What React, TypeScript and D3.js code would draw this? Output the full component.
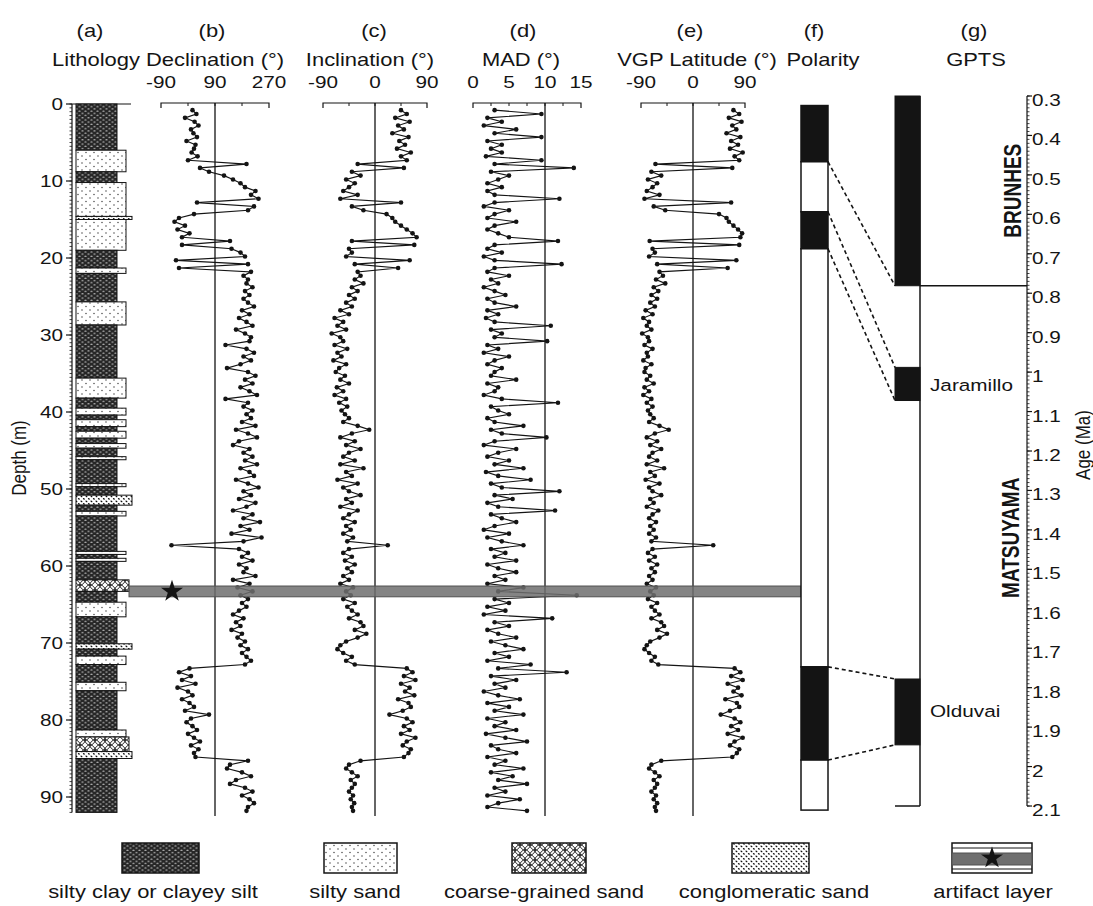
import React from "react";
import * as d3 from "d3";

// sample depths (m) shared by the four palaeomagnetic series
const depthM = [
  0.8, 1.3, 1.8, 2.3, 2.8, 3.3, 3.8, 4.3, 4.8, 5.3,
  5.8, 6.3, 6.8, 7.3, 7.8, 8.3, 8.8, 9.3, 9.8, 10.3,
  10.8, 11.3, 11.8, 12.3, 12.8, 13.3, 13.8, 14.3, 14.8, 15.3,
  15.8, 16.3, 16.8, 17.3, 17.8, 18.3, 18.8, 19.3, 19.8, 20.3,
  20.8, 21.3, 21.8, 22.3, 22.8, 23.3, 23.8, 24.3, 24.8, 25.3,
  25.8, 26.3, 26.8, 27.3, 27.8, 28.3, 28.8, 29.3, 29.8, 30.3,
  30.8, 31.3, 31.8, 32.3, 32.8, 33.3, 33.8, 34.3, 34.8, 35.3,
  35.8, 36.3, 36.8, 37.3, 37.8, 38.3, 38.8, 39.3, 39.8, 40.3,
  40.8, 41.3, 41.8, 42.3, 42.8, 43.3, 43.8, 44.3, 44.8, 45.3,
  45.8, 46.3, 46.8, 47.3, 47.8, 48.3, 48.8, 49.3, 49.8, 50.3,
  50.8, 51.3, 51.8, 52.3, 52.8, 53.3, 53.8, 54.3, 54.8, 55.3,
  55.8, 56.3, 56.8, 57.3, 57.8, 58.3, 58.8, 59.3, 59.8, 60.3,
  60.8, 61.3, 61.8, 62.3, 62.8, 63.3, 63.8, 64.3, 64.8, 65.3,
  65.8, 66.3, 66.8, 67.3, 67.8, 68.3, 68.8, 69.3, 69.8, 70.3,
  70.8, 71.3, 71.8, 72.3, 72.8, 73.3, 73.8, 74.3, 74.8, 75.3,
  75.8, 76.3, 76.8, 77.3, 77.8, 78.3, 78.8, 79.3, 79.8, 80.3,
  80.8, 81.3, 81.8, 82.3, 82.8, 83.3, 83.8, 84.3, 84.8, 85.3,
  85.8, 86.3, 86.8, 87.3, 87.8, 88.3, 88.8, 89.3, 89.8, 90.3,
  90.8, 91.3, 91.8,
];

const declination = [
  15, 28, -10, 22, 35, 10, 18, 30, -5, 25,
  20, 12, 32, 0, 195, 40, 70, 120, 150, 175,
  190, 225, 210, 235, 30, 220, 200, 20, -30, -45,
  -10, -35, 5, -20, 140, -20, 145, 175, 190, -40,
  200, -30, 210, 185, 200, 195, 215, 190, 205, 185,
  200, 220, 180, 205, 170, 195, 215, 160, 190, 210,
  205, 125, 195, 220, 185, 210, 175, 130, 200, 225,
  190, 215, 175, 205, 230, 125, 200, 185, 215, 195,
  210, 180, 225, 160, 200, 230, 170, 150, 205, 185,
  215, 190, 230, 175, 205, 220, 160, 200, 235, 185,
  210, 170, 225, 195, 150, 215, 185, 240, 175, 205,
  145, 245, 185, -55, 170, 200, 180, 215, 170, 195,
  185, 225, 150, 205, 165, 215, 175, 200, 180, 195,
  170, 150, 185, 160, 175, 145, 180, 165, 190, 175,
  200, 180, 195, 210, 190, 5, -30, 10, -20, 25,
  -35, 0, 15, -20, 5, 20, -10, 70, 10, -5,
  15, 30, 0, 20, 40, 10, 35, 20, 25, 200,
  140, 130, 180, 210, 160, 140, 190, 215, 180, 205,
  220, 200, 195,
];

const inclination = [
  45, 55, 35, 60, 40, 50, 30, 58, 42, 52,
  38, 62, 45, 55, -30, 50, -40, -25, -50, -35,
  -45, -55, -30, -60, 45, -40, -20, 20, 30, 35,
  45, 55, 65, 72, -40, 68, -45, -40, -50, 60,
  -35, 40, -30, -25, -35, -20, -40, -30, -45, -35,
  -50, -40, -60, -45, -70, -55, -65, -50, -75, -60,
  -55, -70, -48, -65, -58, -72, -50, -62, -68, -52,
  -60, -45, -66, -55, -70, -50, -62, -48, -58, -52,
  -45, -55, -30, -10, -40, -60, -35, -50, -25, -45,
  -55, -35, -60, -20, -50, -40, -65, -30, -55, -45,
  -25, -50, -40, -60, -30, -45, -55, -35, -50, -42,
  -55, -38, -48, 22, -45, -55, -40, -52, -35, -48,
  -40, -55, -45, -60, -38, -50, -42, -55, -35, -48,
  -40, -30, -45, -25, -20, -35, -15, -30, -50, -60,
  -65, -55, -40, -50, -35, 55, 65, 50, 70, 45,
  60, 52, 68, 40, 58, 62, 48, 25, 55, 65,
  50, 60, 45, 70, 55, 48, 62, 58, 50, -25,
  -45, -50, -40, -30, -42, -35, -40, -45, -38, -42,
  -36, -40, -38,
];

const madDeg = [
  3, 9.5, 2, 4, 1.5, 6, 3, 9.5, 2, 4,
  2.5, 4, 1.8, 9.5, 3, 14, 2.5, 5, 3.5, 2,
  4, 2, 3, 12, 3, 1.5, 5, 3, 2, 6,
  3, 2, 3.5, 5, 11.8, 3, 2, 4, 1.5, 3,
  12.3, 3, 2, 5, 2.5, 3.5, 1.5, 3, 4.5, 2,
  3, 6, 2, 3.5, 1.8, 3, 10.8, 2.5, 4, 3,
  10.3, 2, 3.5, 1.5, 5, 3, 2, 4, 3, 2.5,
  6, 2, 3.5, 3, 1.5, 4, 11.8, 2.5, 3.5, 5,
  2, 3, 7, 2.5, 4, 10.2, 3, 1.5, 6, 3.5,
  2, 5, 3, 7, 1.8, 3.5, 8, 2.5, 4, 12,
  3, 5.5, 2, 3.5, 11.4, 2.5, 4, 6, 3, 1.5,
  5, 2, 4, 7, 2.5, 4.5, 3, 6, 2, 3.5,
  6, 3, 4.5, 2, 7, 3.5, 14.4, 3, 5, 2,
  4.5, 1.5, 11, 3, 5, 2, 3.5, 6, 2.5, 4.5,
  7, 3, 5, 2, 8, 3.5, 13, 2.5, 6, 3,
  4.5, 1.5, 3.5, 6.5, 2, 5, 3, 7, 2, 4.5,
  3, 6, 1.8, 4.5, 7.5, 2.5, 3.5, 6, 2, 4.5,
  3, 7, 2.5, 5.5, 3.5, 7.5, 3, 4.5, 2, 6.5,
  3.5, 2, 7.5,
];

const vgpLat = [
  70, 80, 62, 84, 68, 75, 58, 82, 66, 78,
  64, 86, 72, 80, -65, 68, -72, -55, -78, -62,
  -70, -80, -58, -84, 66, -68, -48, 45, 58, 62,
  70, 78, 85, 82, -75, 80, -70, -66, -76, 75,
  -62, 60, -58, -52, -64, -48, -68, -60, -72, -62,
  -74, -66, -82, -70, -86, -76, -80, -72, -88, -78,
  -76, -84, -70, -80, -78, -86, -72, -82, -84, -74,
  -80, -68, -84, -76, -86, -72, -80, -70, -78, -74,
  -68, -76, -58, -42, -66, -80, -62, -74, -55, -70,
  -76, -62, -80, -50, -74, -66, -82, -58, -76, -70,
  -55, -74, -68, -80, -60, -70, -76, -64, -74, -68,
  -76, -64, -72, 35, -70, -78, -66, -76, -62, -72,
  -66, -76, -70, -80, -64, -74, -68, -78, -62, -72,
  -66, -58, -72, -55, -50, -62, -45, -58, -74, -80,
  -84, -76, -66, -72, -60, 72, 82, 66, 86, 60,
  78, 70, 84, 56, 76, 80, 64, 48, 72, 82,
  66, 78, 60, 86, 72, 64, 80, 76, 68, -55,
  -72, -76, -66, -58, -68, -62, -66, -72, -64, -68,
  -62, -66, -64,
];

// lithology: [top (m), base (m), kind]
const lithology: [number, number, string][] = [
  [0, 6, "clay"], [6, 8.8, "silt"], [8.8, 10.2, "clay"], [10.2, 14.6, "silt"],
  [14.6, 15.0, "cong"], [15.0, 19.0, "silt"], [19.0, 21.3, "clay"], [21.3, 22.0, "silt"],
  [22.0, 25.7, "clay"], [25.7, 28.7, "silt"], [28.7, 35.6, "clay"], [35.6, 38.2, "silt"],
  [38.2, 39.5, "clay"], [39.5, 40.4, "silt"], [40.4, 41.0, "clay"], [41.0, 41.9, "silt"],
  [41.9, 42.5, "clay"], [42.5, 43.4, "silt"], [43.4, 44.1, "clay"], [44.1, 44.7, "silt"],
  [44.7, 45.8, "clay"], [45.8, 46.2, "silt"], [46.2, 49.3, "clay"], [49.3, 49.7, "silt"],
  [49.7, 50.8, "clay"], [50.8, 52.1, "cong"], [52.1, 52.9, "clay"], [52.9, 53.5, "silt"],
  [53.5, 58.1, "clay"], [58.1, 58.5, "silt"], [58.5, 59.0, "clay"], [59.0, 59.4, "silt"],
  [59.4, 61.8, "clay"], [61.8, 63.3, "coarse"], [63.3, 64.7, "clay"], [64.7, 66.6, "silt"],
  [66.6, 70.1, "clay"], [70.1, 70.8, "cong"], [70.8, 71.7, "clay"], [71.7, 72.8, "silt"],
  [72.8, 75.1, "clay"], [75.1, 76.2, "silt"], [76.2, 81.3, "clay"], [81.3, 82.2, "silt"],
  [82.2, 84.1, "coarse"], [84.1, 85.0, "cong"], [85.0, 92.0, "clay"],
];

// polarity zones in depth, and GPTS normal chrons in Ma
const polarityBounds = [0.2, 7.5, 14.0, 18.8, 73.1, 85.2, 91.7];
const polarityNormal = [true, false, true, false, true, false];
const gptsNormal = [[0.3, 0.781], [0.988, 1.072], [1.778, 1.945]];
const gptsBase = 2.1;
const tieDepths = [7.5, 14.0, 18.8, 73.1, 85.2];
const tieAges = [0.781, 0.988, 1.072, 1.778, 1.945];
const artifactLayer = [62.6, 64.0];

const depthTicks = [0, 10, 20, 30, 40, 50, 60, 70, 80, 90];
const ageTicks = [0.3, 0.4, 0.5, 0.6, 0.7, 0.8, 0.9, 1, 1.1, 1.2, 1.3, 1.4, 1.5, 1.6, 1.7, 1.8, 1.9, 2, 2.1];

const legendKinds = ["clay", "silt", "coarse", "cong", "artifact"];
const legendNames = ["silty clay or clayey silt", "silty sand", "coarse-grained sand", "conglomeratic sand", "artifact layer"];

const SX = 1.22; // the original figure is stretched horizontally
const FONT = "'Liberation Sans', Arial, Helvetica, sans-serif";
const INK = "#141414";

function Label({ x, y, text, size = 17, anchor = "middle", bold = false, rotate = false }: any) {
  const t = `translate(${x},${y}) scale(${SX},1)` + (rotate ? " rotate(-90)" : "");
  return (
    <text transform={t} textAnchor={anchor} fontSize={size} fontWeight={bold ? "bold" : "normal"} fontFamily={FONT} fill={INK}>
      {text}
    </text>
  );
}

const panels = [
  { id: "dec", values: declination, domain: [-90, 270], range: [161, 269], ref: 90, ticks: [-90, 0, 90, 180, 270], labels: [-90, 90, 270], tag: "(b)", title: "Declination (°)", tagX: 212, titleX: 215 },
  { id: "inc", values: inclination, domain: [-90, 90], range: [323, 427], ref: 0, ticks: [-90, -45, 0, 45, 90], labels: [-90, 0, 90], tag: "(c)", title: "Inclination (°)", tagX: 374, titleX: 370 },
  { id: "mad", values: madDeg, domain: [0, 15], range: [473, 581], ref: 10, ticks: [0, 2.5, 5, 7.5, 10, 12.5, 15], labels: [0, 5, 10, 15], tag: "(d)", title: "MAD (°)", tagX: 523, titleX: 521 },
  { id: "vgp", values: vgpLat, domain: [-90, 90], range: [641, 745], ref: 0, ticks: [-90, -45, 0, 45, 90], labels: [-90, 0, 90], tag: "(e)", title: "VGP Latitude (°)", tagX: 690, titleX: 697 },
];

const lithRight: Record<string, number> = { clay: 117, silt: 126, coarse: 129, cong: 132 };

function Patterns() {
  return (
    <defs>
      <pattern id="p-clay" width="6" height="4.4" patternUnits="userSpaceOnUse">
        <rect width="6" height="4.4" fill="#262626" />
        <ellipse cx="1.5" cy="1.1" rx="1.2" ry="0.75" fill="#a8a8a8" />
        <ellipse cx="4.5" cy="3.3" rx="1.2" ry="0.75" fill="#a8a8a8" />
      </pattern>
      <pattern id="p-silt" width="8" height="7" patternUnits="userSpaceOnUse">
        <rect width="8" height="7" fill="#fff" />
        <circle cx="2" cy="2" r="0.7" fill="#333" />
        <circle cx="6" cy="5.5" r="0.7" fill="#333" />
      </pattern>
      <pattern id="p-coarse" width="10" height="10" patternUnits="userSpaceOnUse">
        <rect width="10" height="10" fill="#fff" />
        <circle cx="5" cy="5" r="5" fill="none" stroke="#111" strokeWidth="0.9" />
        <circle cx="0" cy="0" r="5" fill="none" stroke="#111" strokeWidth="0.9" />
        <circle cx="10" cy="0" r="5" fill="none" stroke="#111" strokeWidth="0.9" />
        <circle cx="0" cy="10" r="5" fill="none" stroke="#111" strokeWidth="0.9" />
        <circle cx="10" cy="10" r="5" fill="none" stroke="#111" strokeWidth="0.9" />
      </pattern>
      <pattern id="p-cong" width="5" height="5" patternUnits="userSpaceOnUse">
        <rect width="5" height="5" fill="#fff" />
        <ellipse cx="1.4" cy="1.4" rx="1.1" ry="0.7" transform="rotate(30 1.4 1.4)" fill="#111" />
        <ellipse cx="3.9" cy="3.8" rx="1.1" ry="0.7" transform="rotate(30 3.9 3.8)" fill="#111" />
      </pattern>
    </defs>
  );
}

export default function App() {
  const y = d3.scaleLinear().domain([0, 92]).range([104, 812.4]);
  const age = d3.scaleLinear().domain([0.3, 2.1]).range([96, 806]);
  const star = d3.symbol().type(d3.symbolStar);

  const lithLeft = 76;
  const polX0 = 801, polX1 = 828;
  const gX0 = 895, gX1 = 920;
  const ageAxisX = 1027;

  const depthMinor = d3.range(0, 92.01, 0.5);
  const ageMinor = d3.range(0.3, 2.1001, 0.01);

  const legendBoxX = [122, 324, 512, 732, 952];
  const legendBoxW = [77, 73, 74, 77, 80];
  const legendLabelX = [153, 355, 544, 774, 993];

  return (
    <svg width={1093} height={906} style={{ position: "absolute", left: 0, top: 0, background: "#fff" }}>
      <Patterns />

      {/* headers */}
      <Label x={90} y={37} text="(a)" size={18} />
      <Label x={96} y={66} text="Lithology" size={18} />
      {panels.map((p) => (
        <g key={p.id + "h"}>
          <Label x={p.tagX} y={37} text={p.tag} size={18} />
          <Label x={p.titleX} y={66} text={p.title} size={18} />
        </g>
      ))}
      <Label x={814} y={37} text="(f)" size={18} />
      <Label x={823} y={66} text="Polarity" size={18} />
      <Label x={974} y={37} text="(g)" size={18} />
      <Label x={976} y={66} text="GPTS" size={18} />

      {/* depth axis */}
      <line x1={72} x2={72} y1={y(0)} y2={y(92)} stroke={INK} strokeWidth={1.2} />
      <line x1={72} x2={131} y1={y(0)} y2={y(0)} stroke={INK} strokeWidth={1.2} />
      {depthMinor.map((d) => (
        <line key={"dm" + d} x1={69.5} x2={72} y1={y(d)} y2={y(d)} stroke={INK} strokeWidth={0.8} />
      ))}
      {depthTicks.map((d) => (
        <g key={"dt" + d}>
          <line x1={66} x2={72} y1={y(d)} y2={y(d)} stroke={INK} strokeWidth={1.2} />
          <Label x={63} y={y(d) + 6} text={String(d)} anchor="end" />
        </g>
      ))}
      <Label x={26} y={458} text="Depth (m)" rotate />

      {/* lithology column */}
      {lithology.map(([top, base, kind], i) => (
        <rect key={"l" + i} x={lithLeft} y={y(top)} width={lithRight[kind] - lithLeft} height={y(base) - y(top)}
          fill={`url(#p-${kind})`} stroke={INK} strokeWidth={1} />
      ))}

      {/* palaeomagnetic panels */}
      {panels.map((p) => {
        const x = d3.scaleLinear().domain(p.domain).range(p.range);
        const n = Math.min(depthM.length, p.values.length);
        const idx = d3.range(n);
        const line = d3.line<number>().x((i) => x(p.values[i])).y((i) => y(depthM[i]));
        return (
          <g key={p.id}>
            {p.labels.map((v) => (
              <Label key={"lab" + v} x={x(v)} y={88} text={String(v)} />
            ))}
            <path d={`M${x(p.domain[0])},108V103H${x(p.domain[1])}V108`} fill="none" stroke={INK} strokeWidth={1.2} />
            {p.ticks.slice(1, -1).map((v) => (
              <line key={"t" + v} x1={x(v)} x2={x(v)} y1={103} y2={106} stroke={INK} strokeWidth={1} />
            ))}
            <line x1={x(p.ref)} x2={x(p.ref)} y1={103} y2={816} stroke={INK} strokeWidth={1.3} />
            <path d={line(idx) || ""} fill="none" stroke={INK} strokeWidth={1.15} />
            {idx.map((i) => (
              <circle key={i} cx={x(p.values[i])} cy={y(depthM[i])} r={2.3} fill={INK} />
            ))}
          </g>
        );
      })}

      {/* artifact layer */}
      <rect x={129} y={y(artifactLayer[0])} width={polX0 - 129} height={y(artifactLayer[1]) - y(artifactLayer[0])}
        fill="#6f6f6f" fillOpacity={0.85} stroke="#505050" strokeWidth={1} />
      <path d={star.size(150)() || ""} transform={`translate(172,${y((artifactLayer[0] + artifactLayer[1]) / 2)})`} fill={INK} />

      {/* polarity column */}
      {polarityNormal.map((isN, i) => (
        <rect key={"pz" + i} x={polX0} y={y(polarityBounds[i])} width={polX1 - polX0}
          height={y(polarityBounds[i + 1]) - y(polarityBounds[i])} fill={isN ? INK : "#fff"} stroke={INK} strokeWidth={1.5} />
      ))}

      {/* tie lines */}
      {tieDepths.map((d, i) => (
        <line key={"tie" + i} x1={polX1} y1={y(d)} x2={gX0} y2={age(tieAges[i])} stroke={INK} strokeWidth={1.6} strokeDasharray="4,3" />
      ))}

      {/* GPTS */}
      <line x1={gX1} x2={gX1} y1={age(0.3)} y2={age(gptsBase)} stroke={INK} strokeWidth={1.5} />
      <line x1={gX0} x2={gX1} y1={age(gptsBase)} y2={age(gptsBase)} stroke={INK} strokeWidth={1.5} />
      {gptsNormal.map(([a0, a1], i) => (
        <rect key={"g" + i} x={gX0} y={age(a0)} width={gX1 - gX0} height={age(a1) - age(a0)} fill={INK} stroke={INK} strokeWidth={1} />
      ))}
      <line x1={gX1} x2={ageAxisX} y1={age(0.781)} y2={age(0.781)} stroke={INK} strokeWidth={1.5} />
      <Label x={930} y={age(1.03) + 7} text="Jaramillo" anchor="start" />
      <Label x={930} y={age(1.86) + 6} text="Olduvai" anchor="start" />
      <Label x={1021} y={age(0.54)} text="BRUNHES" rotate bold size={19} />
      <Label x={1019} y={age(1.42)} text="MATSUYAMA" rotate bold size={19} />

      {/* age axis */}
      <line x1={ageAxisX} x2={ageAxisX} y1={age(0.3)} y2={age(2.1)} stroke={INK} strokeWidth={1.2} />
      {ageMinor.map((a, i) => (
        <line key={"am" + i} x1={ageAxisX} x2={ageAxisX + 2.5} y1={age(a)} y2={age(a)} stroke={INK} strokeWidth={0.8} />
      ))}
      {ageTicks.map((a) => (
        <g key={"at" + a}>
          <line x1={ageAxisX} x2={ageAxisX + 5} y1={age(a)} y2={age(a)} stroke={INK} strokeWidth={1.2} />
          <Label x={ageAxisX + 5} y={age(a) + 10} text={String(a)} anchor="start" />
        </g>
      ))}
      <Label x={1090} y={445} text="Age (Ma)" rotate />

      {/* legend */}
      {legendKinds.map((k, i) => {
        const bx = legendBoxX[i], bw = legendBoxW[i];
        return (
          <g key={"lg" + k}>
            {k === "artifact" ? (
              <g>
                <rect x={bx} y={843} width={bw} height={30} fill="#fff" stroke={INK} strokeWidth={1.5} />
                <line x1={bx} x2={bx + bw} y1={848} y2={848} stroke={INK} strokeWidth={1} />
                <rect x={bx} y={853} width={bw} height={12} fill="#6f6f6f" stroke="#505050" strokeWidth={1} />
                <line x1={bx} x2={bx + bw} y1={869} y2={869} stroke={INK} strokeWidth={1} />
                <path d={star.size(150)() || ""} transform={`translate(${bx + bw / 2},858)`} fill={INK} />
              </g>
            ) : (
              <rect x={bx} y={843} width={bw} height={30} fill={`url(#p-${k})`} stroke={INK} strokeWidth={1.5} />
            )}
            <Label x={legendLabelX[i]} y={898} text={legendNames[i]} size={18} />
          </g>
        );
      })}
    </svg>
  );
}
